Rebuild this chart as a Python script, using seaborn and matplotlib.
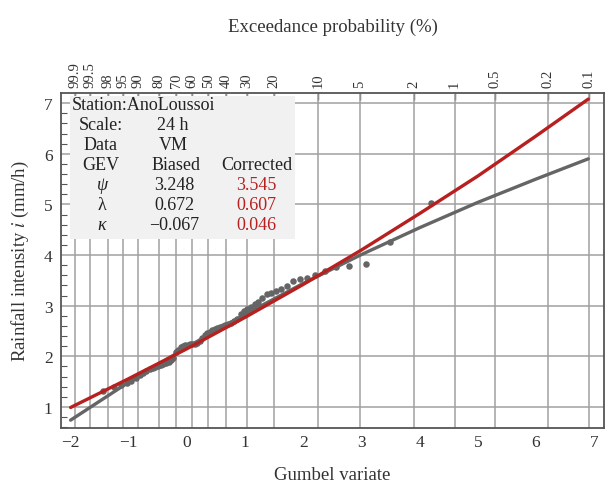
import numpy as np
import pandas as pd
import matplotlib
matplotlib.use("Agg")
import matplotlib.pyplot as plt
import seaborn as sns
from matplotlib.patches import Rectangle

intensity = [1.32, 1.40, 1.44, 1.48, 1.52, 1.58, 1.63, 1.68, 1.72, 1.75,
             1.77, 1.79, 1.81, 1.83, 1.85, 1.87, 1.89, 1.92, 1.97, 2.08,
             2.13, 2.18, 2.21, 2.22, 2.23, 2.24, 2.245, 2.25, 2.27, 2.31,
             2.36, 2.42, 2.46, 2.49, 2.52, 2.54, 2.56, 2.58, 2.60, 2.62,
             2.64, 2.66, 2.69, 2.74, 2.84, 2.90, 2.94, 2.98, 3.04, 3.08,
             3.15, 3.23, 3.26, 3.29, 3.32, 3.38, 3.49, 3.52, 3.55, 3.61,
             3.68, 3.76, 3.79, 3.83, 4.25, 5.02]

# fitted GEV curves (Gumbel variate -> intensity)
curve_g = [-2, -1, 0, 1, 2, 3, 4, 5, 6, 6.9]
biased_curve = [0.74, 1.49, 2.18, 2.83, 3.44, 4.01, 4.54, 5.04, 5.50, 5.90]
corrected_curve = [0.99, 1.56, 2.15, 2.77, 3.42, 4.10, 4.82, 5.56, 6.35, 7.08]

# top axis
prob_ticks = [99.9, 99.5, 98, 95, 90, 80, 70, 60, 50, 40, 30, 20, 10, 5, 2, 1, 0.5, 0.2, 0.1]
prob_labels = ["99.9", "99.5", "98", "95", "90", "80", "70", "60", "50", "40",
               "30", "20", "10", "5", "2", "1", "0.5", "0.2", "0.1"]

# table in the corner
station = "AnoLoussoi"
scale = "24 h"
data_src = "VM"
param_names = ["ψ", "λ", "κ"]
biased_vals = ["3.248", "0.672", "\u22120.067"]
corrected_vals = ["3.545", "0.607", "0.046"]

GRAY = "#656565"
RED = "#b82020"

sns.set_theme(style="white")
plt.rcParams["font.family"] = ["Liberation Serif", "DejaVu Serif"]
plt.rcParams["mathtext.fontset"] = "stix"

# Weibull plotting positions
n = len(intensity)
rank = np.arange(1, n + 1)
pts = pd.DataFrame({"g": -np.log(-np.log(rank / (n + 1))), "i": intensity})
curves = pd.DataFrame({"g": curve_g, "biased": biased_curve, "corrected": corrected_curve})
prob_pos = -np.log(-np.log(1 - np.array(prob_ticks) / 100))

fig = plt.figure(figsize=(6.05, 4.85), dpi=100)
ax = fig.add_axes([61 / 605, 1 - 429 / 485, 543 / 605, 335 / 485])

sns.lineplot(data=curves, x="g", y="biased", color=GRAY, lw=2.4, ax=ax, zorder=3)
sns.scatterplot(data=pts, x="g", y="i", color=GRAY, s=22, linewidth=0, ax=ax, zorder=4)
sns.lineplot(data=curves, x="g", y="corrected", color=RED, lw=2.4, ax=ax, zorder=5)

ax.set_xlim(-2.165, 7.17)
ax.set_ylim(0.585, 7.2)
ax.set_xticks(range(-2, 8))
ax.set_xticks(prob_pos, minor=True)
ax.set_yticks(range(1, 8))
ax.set_yticks(np.arange(0.6, 7.2, 0.2), minor=True)
ax.grid(True, which="minor", axis="x", color="#a0a0a0", lw=1.1)
ax.grid(True, which="major", axis="y", color="#a0a0a0", lw=1.1)
ax.set_axisbelow(True)

ax.tick_params(axis="x", which="major", direction="in", length=5, width=1, color="#555555",
               labelsize=12.5, pad=4, colors="#333333")
ax.tick_params(axis="x", which="minor", length=0)
ax.tick_params(axis="y", which="major", direction="in", length=7, width=1, color="#555555",
               labelsize=12.5, pad=6, colors="#333333")
ax.tick_params(axis="y", which="minor", direction="in", length=4, width=0.8, color="#555555", left=True)
for s in ax.spines.values():
    s.set_color("#555555")
    s.set_linewidth(1.3)

ax.set_xlabel("Gumbel variate", fontsize=13.5, color="#333333", labelpad=12)
ax.set_ylabel("Rainfall intensity $i$ (mm/h)", fontsize=13.5, color="#333333", labelpad=9)

top = ax.secondary_xaxis("top")
top.set_xticks(prob_pos)
top.set_xticklabels(prob_labels, rotation=90, fontsize=10.5, color="#333333")
top.tick_params(direction="in", length=5, width=1, color="#555555", pad=4)
top.spines["top"].set_visible(False)
top.set_xlabel("Exceedance probability (%)", fontsize=13.5, color="#333333", labelpad=22)

# parameter table
box = Rectangle((0.0166, 0.564), 0.414, 0.427, transform=ax.transAxes,
                facecolor="#f1f1f1", edgecolor="none", zorder=6)
ax.add_patch(box)

def fx(px):
    return (px - 61) / 543

def fy(py):
    return (429 - py) / 335

rows_y = [105, 126, 146, 166, 186, 206, 226]
kw = dict(transform=ax.transAxes, fontsize=13, color="#222222", va="center", zorder=7)
ax.text(fx(72), fy(rows_y[0]), "Station:" + station, ha="left", **kw)
ax.text(fx(101), fy(rows_y[1]), "Scale:", ha="center", **kw)
ax.text(fx(173), fy(rows_y[1]), scale, ha="center", **kw)
ax.text(fx(101), fy(rows_y[2]), "Data", ha="center", **kw)
ax.text(fx(173), fy(rows_y[2]), data_src, ha="center", **kw)
ax.text(fx(101), fy(rows_y[3]), "GEV", ha="center", **kw)
ax.text(fx(176), fy(rows_y[3]), "Biased", ha="center", **kw)
ax.text(fx(257), fy(rows_y[3]), "Corrected", ha="center", **kw)
for k in range(3):
    y = fy(rows_y[4 + k])
    style = "normal" if param_names[k] == "λ" else "italic"
    ax.text(fx(102), y, param_names[k], ha="center", style=style, **kw)
    ax.text(fx(174), y, biased_vals[k], ha="center", **kw)
    kw_red = dict(kw, color=RED)
    ax.text(fx(256), y, corrected_vals[k], ha="center", **kw_red)

fig.savefig("out.png", dpi=100)
